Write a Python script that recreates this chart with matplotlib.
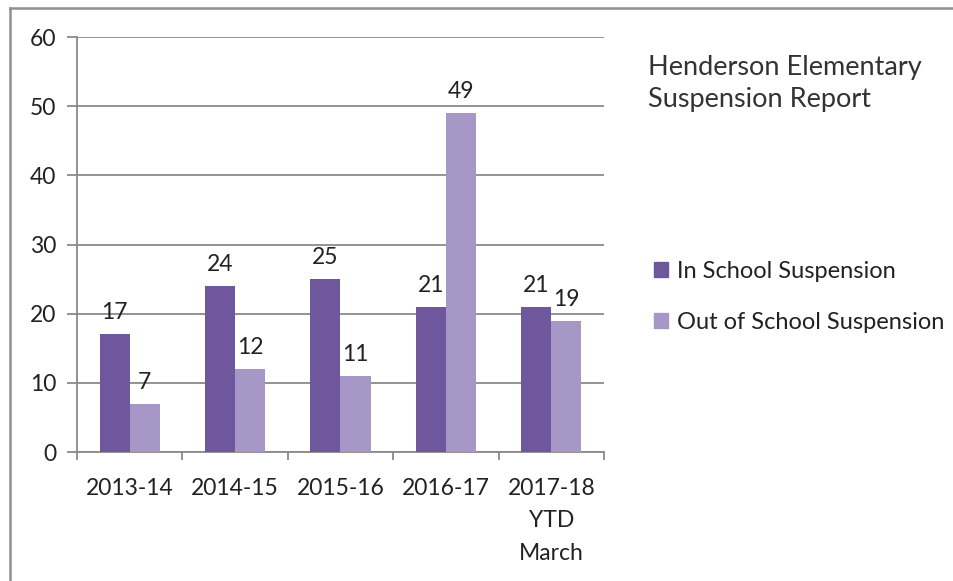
import matplotlib
matplotlib.use("Agg")
from matplotlib import pyplot as plt
from matplotlib.lines import Line2D
from matplotlib.patches import Patch
import numpy as np

# data
years = ["2013-14", "2014-15", "2015-16", "2016-17", "2017-18\nYTD\nMarch"]
in_school = [17, 24, 25, 21, 21]
out_school = [7, 12, 11, 49, 19]

dark = "#6f579e"
light = "#a797c6"
grid_col = "#8a8a8a"

plt.rcParams['font.family'] = ['Lato', 'DejaVu Sans']

fig = plt.figure(figsize=(9.54, 5.81), dpi=100)
ax = fig.add_axes([0.0807, 0.222, 0.5524, 0.714])

x = np.arange(len(years))
w = 0.285
b1 = ax.bar(x - w / 2, in_school, w, color=dark, zorder=3)
b2 = ax.bar(x + w / 2, out_school, w, color=light, zorder=3)

for bars in (b1, b2):
    for r in bars:
        ax.annotate(str(int(r.get_height())),
                    (r.get_x() + r.get_width() / 2, r.get_height()),
                    xytext=(0, 8), textcoords="offset points",
                    ha="center", va="bottom", fontsize=16.5, color="#222222")

ax.set_xlim(-0.5, len(years) - 0.5)
ax.set_ylim(0, 60)
ax.set_yticks(range(0, 61, 10))
ax.yaxis.grid(True, color=grid_col, lw=1.3, zorder=0)

# category labels centered, tick marks between categories
ax.set_xticks(x)
ax.set_xticklabels(years, fontsize=16.5, color="#222222", linespacing=1.65)
ax.tick_params(axis="x", length=0, pad=19)
ax.set_xticks(np.arange(-0.5, len(years)), minor=True)
ax.tick_params(axis="x", which="minor", length=6, color=grid_col, width=1.3)
ax.tick_params(axis="y", length=7, color=grid_col, width=1.3, pad=8,
               labelsize=16.5, labelcolor="#222222")

for s in ("top", "right"):
    ax.spines[s].set_visible(False)
for s in ("left", "bottom"):
    ax.spines[s].set_color(grid_col)
    ax.spines[s].set_linewidth(1.3)

fig.text(0.679, 0.857, "Henderson Elementary\nSuspension Report",
         fontsize=19.5, color="#333333", va="center", ha="left",
         linespacing=1.35)

handles = [Patch(color=dark), Patch(color=light)]
fig.legend(handles, ["In School Suspension", "Out of School Suspension"],
           loc="center left", bbox_to_anchor=(0.663, 0.489), frameon=False,
           fontsize=17, handlelength=0.6, handleheight=0.6,
           handletextpad=0.4, labelspacing=1.25, labelcolor="#222222")

# outer frame (left and top edges)
fig.add_artist(Line2D([0.0105, 0.0105], [0.0, 0.986], color="#909090", lw=1.8))
fig.add_artist(Line2D([0.0105, 1.0], [0.986, 0.986], color="#909090", lw=1.8))

fig.savefig("out.png", dpi=100)
